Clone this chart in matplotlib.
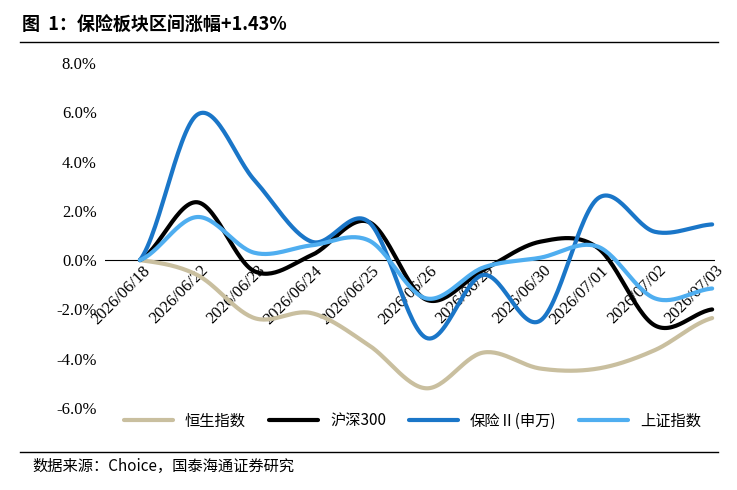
import matplotlib
matplotlib.use("Agg")
import matplotlib.pyplot as plt
import numpy as np

dates = ["2026/06/18","2026/06/22","2026/06/23","2026/06/24","2026/06/25","2026/06/26",
         "2026/06/29","2026/06/30","2026/07/01","2026/07/02","2026/07/03"]
hsi = [0, -0.6, -2.35, -2.15, -3.45, -5.2, -3.75, -4.4, -4.4, -3.65, -2.35]
hs300 = [0, 2.35, -0.45, 0.2, 1.55, -1.6, -0.4, 0.75, 0.5, -2.65, -2.0]
insur = [0, 5.9, 3.25, 0.75, 1.55, -3.15, -0.6, -2.45, 2.5, 1.15, 1.45]
shci = [0, 1.75, 0.3, 0.6, 0.8, -1.55, -0.3, 0.1, 0.55, -1.55, -1.15]
names = ["恒生指数", "沪深300", "保险Ⅱ(申万)", "上证指数"]
colors = ["#C9BF9F", "#000000", "#1A76C8", "#4FAEF0"]

def smooth(y, n=30):
    y = np.asarray(y, float)
    p = np.concatenate([[y[0]], y, [y[-1]]])
    xs, ys = [], []
    for i in range(len(y) - 1):
        p0, p1, p2, p3 = p[i], p[i+1], p[i+2], p[i+3]
        t = np.linspace(0, 1, n, endpoint=False)
        v = 0.5*((2*p1) + (-p0+p2)*t + (2*p0-5*p1+4*p2-p3)*t**2 + (-p0+3*p1-3*p2+p3)*t**3)
        xs.append(i + t); ys.append(v)
    xs.append([len(y)-1]); ys.append([y[-1]])
    return np.concatenate(xs), np.concatenate(ys)

cjk = ["Noto Sans CJK SC", "DejaVu Sans"]
serif = ["Liberation Serif", "Noto Sans CJK SC"]
plt.rcParams['font.family'] = serif

fig = plt.figure(figsize=(7.37, 4.9), dpi=100)
W, H = 737, 490
ax = fig.add_axes([105/W, 1-408/H, 610/W, 345/H])
ax.set_xlim(-0.61, 10.05)
ax.set_ylim(-6, 8)
for s in ax.spines.values():
    s.set_visible(False)
ax.axhline(0, color="black", lw=0.8, zorder=1)
for y, nm, c in zip([hsi, hs300, insur, shci], names, colors):
    xs, ys = smooth(y)
    ax.plot(xs, ys, color=c, lw=3, label=nm, solid_capstyle="round", zorder=3)
ax.set_xticks([])
ax.set_yticks(np.arange(-6, 8.1, 2))
ax.set_yticklabels([f"{v:.1f}%" for v in np.arange(-6, 8.1, 2)], fontsize=12)
ax.tick_params(axis="y", length=0, pad=6)
for i, d in enumerate(dates):
    ax.text(i + 0.05, -0.1, d, rotation=45, ha="right", va="top", rotation_mode="anchor",
            fontsize=12, zorder=2)

leg = fig.legend(loc="center", bbox_to_anchor=(0.56, 1-421/H), ncol=4, frameon=False,
                 fontsize=12, handlelength=3.2, columnspacing=1.5, prop={"family": cjk, "size": 11})

fig.text(22/W, 1-25/H, "图  1：保险板块区间涨幅+1.43%", fontsize=13, fontweight="bold",
         family=cjk, va="center")
fig.add_artist(plt.Line2D([20/W, 718/W], [1-42/H, 1-42/H], color="black", lw=1))
fig.add_artist(plt.Line2D([20/W, 718/W], [1-452/H, 1-452/H], color="black", lw=1))
fig.text(32/W, 1-466/H, "数据来源：Choice，国泰海通证券研究", fontsize=11, family=cjk, va="center")

fig.savefig("out.png", dpi=100)
